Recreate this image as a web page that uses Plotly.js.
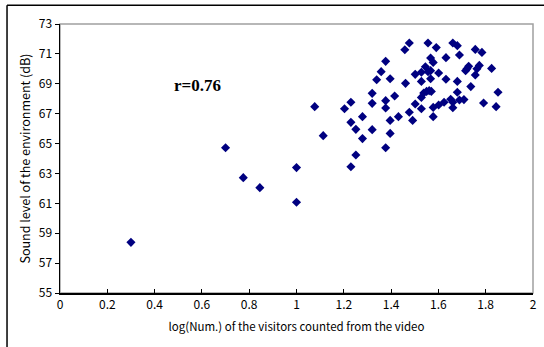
<!DOCTYPE html>
<html>
<head>
<meta charset="utf-8">
<script src="https://cdn.plot.ly/plotly-3.0.1.min.js"></script>
<style>
html,body{margin:0;padding:0;background:#fff;}
#chart{width:544px;height:347px;}
</style>
</head>
<body>
<div id="chart"></div>
<script>
// log(Num.) of visitors counted from the video
const logVisitors = [
  0.30, 0.70, 0.775, 0.845, 1.00, 1.00, 1.077, 1.113, 1.203, 1.230,
  1.230, 1.230, 1.251, 1.251, 1.279, 1.279, 1.320, 1.320, 1.320, 1.339,
  1.358, 1.377, 1.377, 1.377, 1.377, 1.396, 1.396, 1.396, 1.415, 1.431,
  1.458, 1.461, 1.477, 1.477, 1.491, 1.502, 1.502, 1.528, 1.528, 1.528,
  1.528, 1.545, 1.538, 1.550, 1.561, 1.570, 1.556, 1.556, 1.567, 1.567,
  1.567, 1.578, 1.578, 1.578, 1.591, 1.601, 1.601, 1.624, 1.632, 1.632,
  1.652, 1.661, 1.661, 1.661, 1.680, 1.680, 1.680, 1.689, 1.689, 1.708,
  1.715, 1.721, 1.728, 1.737, 1.756, 1.756, 1.763, 1.773, 1.784, 1.791,
  1.825, 1.844, 1.852
];
// Sound level of the environment (dB)
const soundLevel = [
  58.39, 64.72, 62.72, 62.05, 63.39, 61.07, 67.47, 65.53, 67.33, 67.76,
  66.42, 63.45, 65.95, 64.23, 66.80, 65.33, 68.36, 67.69, 65.93, 69.27,
  69.81, 70.50, 67.87, 67.38, 64.72, 69.34, 66.55, 65.68, 68.18, 66.80,
  71.28, 69.03, 71.73, 67.09, 66.55, 69.63, 67.65, 69.77, 69.16, 68.09,
  67.33, 70.14, 68.38, 68.49, 68.54, 68.49, 71.73, 69.81, 70.72, 69.88,
  69.34, 70.43, 67.42, 66.80, 71.42, 69.72, 67.58, 67.76, 70.75, 69.30,
  67.96, 71.73, 67.76, 67.40, 71.55, 69.16, 68.43, 70.93, 67.91, 67.94,
  69.88, 70.01, 70.17, 68.81, 71.30, 69.59, 70.00, 70.23, 71.10, 67.71,
  70.03, 67.47, 68.43
];
const xTickVals = [0, 0.2, 0.4, 0.6, 0.8, 1, 1.2, 1.4, 1.6, 1.8, 2];
const xTickText = ["0", "0.2", "0.4", "0.6", "0.8", "1", "1.2", "1.4", "1.6", "1.8", "2"];
const yTickVals = [55, 57, 59, 61, 63, 65, 67, 69, 71, 73];
const corrLabel = "r=0.76";

const fam = "Noto Sans CJK JP, Liberation Sans, sans-serif";
const tickFont = {family: fam, size: 12, color: "#000"};

const trace = {
  x: logVisitors,
  y: soundLevel,
  type: "scatter",
  mode: "markers",
  marker: {symbol: "diamond", size: 7, color: "#000080", line: {width: 0}},
  hoverinfo: "x+y"
};

const layout = {
  width: 544,
  height: 347,
  margin: {l: 60, r: 11, t: 24, b: 54},
  paper_bgcolor: "#fff",
  plot_bgcolor: "#fff",
  showlegend: false,
  xaxis: {
    range: [0, 2],
    tickvals: xTickVals,
    ticktext: xTickText,
    showgrid: false,
    zeroline: false,
    showline: true,
    linecolor: "#000",
    linewidth: 1.5,
    ticks: "inside",
    ticklen: 4,
    tickcolor: "#000",
    tickfont: tickFont,
    title: {text: "log(Num.) of the visitors counted from the video",
            font: {family: fam, size: 11.5, color: "#000"},
            standoff: 12}
  },
  yaxis: {
    range: [55, 73],
    tickvals: yTickVals,
    showgrid: false,
    zeroline: false,
    showline: true,
    linecolor: "#000",
    linewidth: 1.5,
    ticks: "outside",
    ticklen: 4,
    tickcolor: "#000",
    tickfont: tickFont,
    title: {text: "Sound level of the environment (dB)",
            font: {family: fam, size: 12.5, color: "#000"},
            standoff: 5}
  },
  shapes: [
    {type: "rect", xref: "paper", yref: "paper", x0: 0, x1: 1, y0: 0, y1: 1,
     line: {color: "#a0a0a0", width: 1.5}, layer: "below"},
    {type: "line", xref: "paper", yref: "paper", x0: -0.112, x1: -0.112, y0: 1.07, y1: -0.3,
     line: {color: "#000", width: 1.5}},
    {type: "line", xref: "paper", yref: "paper", x0: -0.112, x1: 1.1, y0: 1.07, y1: 1.07,
     line: {color: "#000", width: 1.5}}
  ],
  annotations: [
    {text: corrLabel, xref: "x", yref: "y", x: 0.58, y: 68.87, showarrow: false,
     font: {family: "Liberation Serif, serif", size: 17, color: "#000", weight: "bold"}}
  ]
};

Plotly.newPlot("chart", [trace], layout, {displayModeBar: false, staticPlot: true});
</script>
</body>
</html>
